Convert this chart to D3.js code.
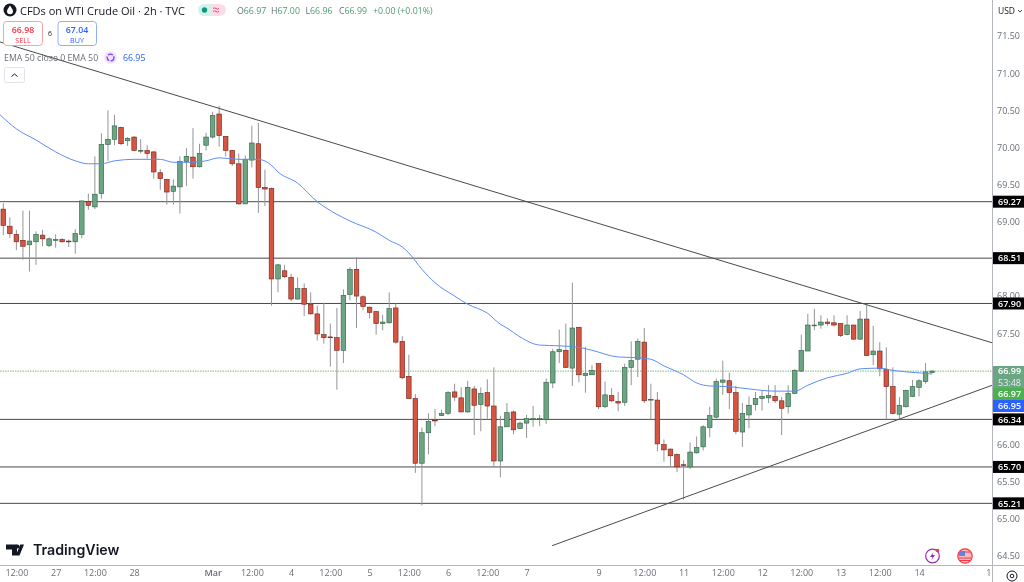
<!DOCTYPE html>
<html>
<head>
<meta charset="utf-8">
<script src="https://cdnjs.cloudflare.com/ajax/libs/d3/7.8.5/d3.min.js"></script>
<style>
html, body { margin: 0; padding: 0; background: #fff; overflow: hidden; }
text { font-family: "Open Sans", "Noto Sans", sans-serif; }
</style>
</head>
<body>
<script>
// 2h candles, one entry per bar
var opens = [69.17,68.94,68.83,68.75,68.69,68.73,68.82,68.68,68.76,68.76,68.74,68.73,68.83,69.27,69.20,69.38,70.04,70.11,70.27,70.09,70.14,69.96,69.96,69.94,69.66,69.57,69.41,69.47,69.81,69.87,69.74,70.03,70.14,70.45,70.15,69.96,69.78,69.24,69.83,70.05,69.46,
69.45,68.23,68.34,68.25,67.96,68.10,67.89,67.76,67.48,67.45,67.44,67.27,68.02,68.36,67.99,67.85,67.79,67.63,67.64,67.84,67.39,66.92,66.62,65.75,66.16,66.33,66.39,66.42,66.71,66.63,66.44,66.75,66.54,66.70,66.52,
65.78,66.24,66.44,66.22,66.29,66.34,66.34,66.34,66.83,67.25,67.27,67.03,67.58,66.93,66.94,67.09,66.51,66.66,66.58,66.57,67.04,67.15,67.38,66.60,66.60,66.00,65.94,65.87,65.73,65.70,65.89,65.97,66.23,66.37,66.84,66.86,66.70,66.17,66.40,
66.54,66.62,66.63,66.65,66.59,66.51,66.69,66.99,67.26,67.60,67.61,67.65,67.64,67.63,67.48,67.61,67.42,67.69,67.21,67.26,67.01,66.78,66.41,66.51,66.65,66.77,66.85,66.97];
var highs = [69.25,69.06,68.89,69.15,69.15,68.87,68.89,68.79,68.83,68.78,68.76,68.90,69.29,69.38,69.88,70.19,70.50,70.44,70.28,70.14,70.15,70.11,70.03,69.95,69.71,69.58,69.57,69.88,69.99,70.26,70.05,70.20,70.48,70.56,70.15,69.97,69.92,69.89,70.29,70.33,69.70,
69.46,68.43,68.42,68.30,68.25,68.17,68.05,67.87,67.91,67.63,67.84,68.09,68.39,68.52,68.01,67.86,67.80,67.75,68.05,67.90,67.46,67.21,66.68,66.23,66.42,66.48,66.47,66.72,66.82,66.77,66.86,66.79,66.77,66.88,67.04,
66.39,66.56,66.46,66.31,66.40,66.52,66.40,66.89,67.29,67.55,67.63,68.18,67.58,67.32,67.07,67.10,66.85,66.76,66.71,67.09,67.39,67.43,67.57,66.82,66.71,66.07,65.95,65.88,65.79,66.03,66.11,66.26,66.51,66.89,67.13,66.97,66.79,66.56,66.65,
66.71,66.73,66.80,66.80,66.64,66.80,67.02,67.48,67.76,67.83,67.74,67.70,67.74,67.63,67.74,67.61,67.80,67.89,67.60,67.38,67.31,67.04,66.64,66.74,66.87,66.88,67.10,67.00];
var lows = [68.82,68.78,68.62,68.49,68.33,68.42,68.67,68.66,68.65,68.72,68.66,68.57,68.78,69.16,69.17,69.31,69.82,70.03,70.03,70.02,69.95,69.92,69.85,69.58,69.43,69.23,69.23,69.11,69.48,69.58,69.73,69.96,70.12,70.01,69.88,69.75,69.23,69.24,69.73,69.12,69.21,
67.87,68.05,68.24,67.93,67.95,67.73,67.75,67.40,67.36,67.05,66.74,67.10,67.94,67.57,67.81,67.70,67.48,67.54,67.63,67.36,66.88,66.62,65.62,65.18,65.87,66.25,66.39,66.40,66.59,66.44,66.43,66.13,66.18,66.35,65.70,
65.56,66.24,66.14,66.21,66.09,66.24,66.25,66.28,66.76,67.10,67.03,66.79,66.84,66.70,66.94,66.48,66.49,66.57,66.45,66.52,66.80,66.91,66.56,66.34,65.91,65.77,65.70,65.63,65.26,65.67,65.88,65.92,66.10,66.35,66.67,66.48,66.14,65.97,66.22,
66.46,66.46,66.56,66.56,66.13,66.42,66.68,66.98,67.26,67.54,67.56,67.60,67.59,67.45,67.47,67.41,67.41,67.19,67.07,66.92,66.34,66.41,66.35,66.50,66.64,66.65,66.82,66.96];
var closes = [68.95,68.84,68.73,68.67,68.74,68.83,68.77,68.77,68.76,68.73,68.73,68.84,69.28,69.22,69.37,70.04,70.11,70.29,70.05,70.12,69.96,69.96,69.92,69.67,69.58,69.40,69.48,69.81,69.88,69.74,69.92,70.14,70.43,70.16,69.96,69.78,69.24,69.84,70.06,69.46,69.44,
68.23,68.42,68.26,67.96,68.10,67.89,67.76,67.49,67.44,67.44,67.27,68.01,68.36,68.00,67.86,67.78,67.63,67.65,67.83,67.38,66.90,66.62,65.75,66.16,66.31,66.32,66.42,66.70,66.64,66.44,66.77,66.53,66.69,66.52,65.78,
66.24,66.43,66.20,66.29,66.35,66.35,66.35,66.84,67.25,67.28,67.04,67.57,66.94,66.96,67.00,66.51,66.67,66.59,66.56,67.04,67.13,67.39,66.59,66.61,66.01,65.93,65.85,65.70,65.72,65.90,65.96,66.24,66.39,66.85,66.87,66.70,66.18,66.42,66.53,
66.62,66.65,66.66,66.59,66.49,66.69,67.00,67.27,67.61,67.61,67.65,67.63,67.61,67.47,67.61,67.42,67.69,67.20,67.26,67.02,66.78,66.42,66.53,66.73,66.78,66.86,66.98,66.99];

// EMA 50, read at these bars
var emaBars = [-0.5,2,5,8,11,13,15,17,20,24,26,29,31,33,36,39,41,42,45,48,51,53,57,59,61,62,64,66,69,71,74,76,77,79,82,85,88,90,94,97,99,101,104,106,108,111,114,118,121,123,126,129,131,134,136,138,141,142];
var emaValues = [70.44,70.25,70.10,69.94,69.82,69.78,69.78,69.82,69.84,69.84,69.80,69.80,69.82,69.86,69.84,69.84,69.76,69.67,69.52,69.27,69.10,69.01,68.86,68.75,68.66,68.58,68.36,68.18,68.00,67.89,67.77,67.62,67.57,67.45,67.34,67.33,67.31,67.27,67.18,67.17,67.15,67.06,66.94,66.83,66.79,66.78,66.75,66.72,66.72,66.80,66.90,66.96,67.02,67.03,67.00,66.98,66.96,66.95];

var levels = [69.27,68.51,67.90,66.34,65.70,65.21];
var upperTrend = [[-0.5,71.42],[151.2,67.37]];
var lowerTrend = [[83.9,64.64],[151.2,66.80]];

// 68.50, 67.00 and 66.50 sit behind the price tags in the picture
var priceTicks = [71.5,71,70.5,70,69.5,69,68,67.5,66,65.5,65,64.5];
var timeBars = [2,8,14,20,32,38,44,50,56,62,68,74,80,91,98,104,110,116,122,128,134,140,151];
var timeLabels = ['12:00','27','12:00','28','Mar','12:00','4','12:00','5','12:00','6','12:00','7','9','12:00','11','12:00','12','12:00','13','12:00','14','16'];

var lastPrice = 66.99, settlePrice = 66.97, emaLast = 66.95;
var ohlcLabels = ['O','H','L','C'];
var ohlcValues = ['66.97','67.00','66.96','66.99'];

var width = 1024, height = 582,
    paneRight = 992, paneBottom = 565;

var upColor = '#6ba583', upBorder = '#2f5f43',
    downColor = '#d75442', downBorder = '#6d2219',
    wickColor = '#959597', textColor = '#6a6d78';

var x = d3.scaleLinear().domain([0, 142]).range([3.3, 932.1]);
var y = d3.scaleLinear().domain([64.5, 71.5]).range([556.1, 36]);

var svg = d3.select('body').append('svg')
    .attr('width', width)
    .attr('height', height)
    .style('display', 'block')
    .style('filter', 'blur(0.3px)');

svg.append('defs').append('clipPath').attr('id', 'pane')
    .append('rect').attr('width', paneRight).attr('height', paneBottom);

var pane = svg.append('g').attr('clip-path', 'url(#pane)');

// horizontal levels sit under the candles
pane.selectAll('.level')
    .data(levels)
    .enter().append('line')
    .attr('class', 'level')
    .attr('x1', 0).attr('x2', paneRight)
    .attr('y1', function(d) { return y(d); })
    .attr('y2', function(d) { return y(d); })
    .attr('stroke', '#4a4a4a')
    .attr('stroke-width', 1);

pane.append('line')
    .attr('x1', 0).attr('x2', paneRight)
    .attr('y1', y(lastPrice)).attr('y2', y(lastPrice))
    .attr('stroke', '#8fce94')
    .attr('stroke-width', 1.4)
    .attr('stroke-dasharray', '1.5,1');

var candles = pane.selectAll('.candle')
    .data(opens)
    .enter().append('g')
    .attr('class', 'candle');

candles.append('line')
    .attr('x1', function(d, i) { return x(i); })
    .attr('x2', function(d, i) { return x(i); })
    .attr('y1', function(d, i) { return y(highs[i]); })
    .attr('y2', function(d, i) { return y(lows[i]); })
    .attr('stroke', wickColor)
    .attr('stroke-width', 1);

candles.append('rect')
    .attr('x', function(d, i) { return x(i) - 2.3; })
    .attr('width', 4.6)
    .attr('y', function(d, i) { return y(Math.max(opens[i], closes[i])); })
    .attr('height', function(d, i) { return Math.max(0.8, Math.abs(y(opens[i]) - y(closes[i]))); })
    .attr('fill', function(d, i) { return closes[i] >= opens[i] ? upColor : downColor; })
    .attr('stroke', function(d, i) { return closes[i] >= opens[i] ? upBorder : downBorder; })
    .attr('stroke-width', 0.6);

var emaLine = d3.line()
    .x(function(d, i) { return x(emaBars[i]); })
    .y(function(d) { return y(d); })
    .curve(d3.curveMonotoneX);

pane.append('path')
    .attr('d', emaLine(emaValues))
    .attr('fill', 'none')
    .attr('stroke', '#5b8df6')
    .attr('stroke-width', 1);

var trendLine = d3.line()
    .x(function(d) { return x(d[0]); })
    .y(function(d) { return y(d[1]); });

pane.selectAll('.trend')
    .data([upperTrend, lowerTrend])
    .enter().append('path')
    .attr('class', 'trend')
    .attr('d', trendLine)
    .attr('stroke', '#4a4a4a')
    .attr('fill', 'none')
    .attr('stroke-width', 1);

// axes
var yAxis = d3.axisRight(y)
    .tickValues(priceTicks)
    .tickFormat(d3.format('.2f'))
    .tickSize(0)
    .tickPadding(5);

var yG = svg.append('g')
    .attr('transform', 'translate(' + paneRight + ',0)')
    .call(yAxis);
yG.select('.domain').remove();
yG.selectAll('text').attr('font-size', 9).attr('fill', textColor);

var xAxis = d3.axisBottom(x)
    .tickValues(timeBars)
    .tickFormat(function(d, i) { return timeLabels[i]; })
    .tickSize(0)
    .tickPadding(5);

var xG = svg.append('g')
    .attr('transform', 'translate(0,' + paneBottom + ')')
    .call(xAxis);
xG.select('.domain').remove();
xG.selectAll('text')
    .attr('font-size', 9)
    .attr('fill', textColor)
    .attr('font-weight', function(d, i) { return timeLabels[i] === 'Mar' ? 600 : 400; });

// covers the clipped last time label, leaves the gear corner
svg.append('rect')
    .attr('x', paneRight).attr('y', paneBottom)
    .attr('width', width - paneRight).attr('height', height - paneBottom)
    .attr('fill', '#fff');

svg.append('line')
    .attr('x1', paneRight + 0.5).attr('x2', paneRight + 0.5)
    .attr('y1', 0).attr('y2', height)
    .attr('stroke', '#b4b6bd');
svg.append('line')
    .attr('x1', 0).attr('x2', width)
    .attr('y1', paneBottom + 0.5).attr('y2', paneBottom + 0.5)
    .attr('stroke', '#b4b6bd');

// price labels on the scale
function tagBox(yMid, h, fill) {
    svg.append('rect')
        .attr('x', paneRight + 1).attr('y', yMid - h / 2)
        .attr('width', width - paneRight - 1).attr('height', h)
        .attr('fill', fill);
}

function tagText(yText, label, weight, color) {
    svg.append('text')
        .attr('x', paneRight + 6).attr('y', yText)
        .attr('font-size', 9).attr('font-weight', weight)
        .attr('fill', color)
        .text(label);
}

levels.forEach(function(d) {
    tagBox(y(d), 12, '#000');
    tagText(y(d) + 3.2, d3.format('.2f')(d), 600, '#fff');
});

tagBox(377, 22, upColor);
tagText(y(lastPrice) + 2.6, d3.format('.2f')(lastPrice), 600, '#fff');
tagText(385.5, '53:48', 400, '#e6f0ea');
tagBox(394, 12, '#4caf50');
tagText(397.2, d3.format('.2f')(settlePrice), 600, '#fff');
tagBox(406, 12, '#2962ff');
tagText(409.2, d3.format('.2f')(emaLast), 600, '#fff');

// currency button
svg.append('text').attr('x', 998).attr('y', 14)
    .attr('font-size', 8.5).attr('fill', '#131722').text('USD');
svg.append('path').attr('d', 'M1018,10l2,2l2,-2')
    .attr('fill', 'none').attr('stroke', '#131722').attr('stroke-width', 0.8);

// header
svg.append('circle').attr('cx', 10).attr('cy', 10).attr('r', 6.5).attr('fill', '#131722');
svg.append('path').attr('d', 'M10,5.5C11.5,8 13,9.5 13,11.2A3,3 0 0 1 7,11.2C7,9.5 8.5,8 10,5.5Z').attr('fill', '#fff');
svg.append('text').attr('x', 20).attr('y', 14.5)
    .attr('font-size', 11).attr('fill', '#131722')
    .text('CFDs on WTI Crude Oil · 2h · TVC');

svg.append('path').attr('d', 'M204,4H211V16H204A6,6 0 0 1 204,4Z').attr('fill', '#d5f2ea');
svg.append('path').attr('d', 'M211,4H220A6,6 0 0 1 220,16H211Z').attr('fill', '#fcdde6');
svg.append('circle').attr('cx', 204.5).attr('cy', 10).attr('r', 2.7).attr('fill', '#089981');
svg.append('path').attr('d', 'M213,8.5q1.5,-1.2 3,0t3,0M213,11.5q1.5,-1.2 3,0t3,0')
    .attr('fill', 'none').attr('stroke', '#e91e63').attr('stroke-width', 0.8);

var ohlcX = [237, 271, 305.5, 339];
ohlcLabels.forEach(function(d, i) {
    var t = svg.append('text').attr('x', ohlcX[i]).attr('y', 14).attr('font-size', 8.8).attr('fill', textColor);
    t.append('tspan').text(d);
    t.append('tspan').attr('fill', '#4e9a73').text(ohlcValues[i]);
});
svg.append('text').attr('x', 373).attr('y', 14).attr('font-size', 8.8).attr('fill', '#4e9a73').text('+0.00 (+0.01%)');

// sell / buy
svg.append('rect').attr('x', 3.5).attr('y', 21.5).attr('width', 39).attr('height', 24).attr('rx', 3)
    .attr('fill', '#fff').attr('stroke', '#f7a0a5');
svg.append('text').attr('x', 23).attr('y', 33).attr('text-anchor', 'middle').attr('font-size', 8.8).attr('font-weight', 600).attr('fill', '#f23645').text('66.98');
svg.append('text').attr('x', 23).attr('y', 43).attr('text-anchor', 'middle').attr('font-size', 7.2).attr('fill', '#f23645').text('SELL');
svg.append('text').attr('x', 50).attr('y', 36).attr('text-anchor', 'middle').attr('font-size', 7).attr('fill', '#131722').text('6');
svg.append('rect').attr('x', 58).attr('y', 21.5).attr('width', 38.5).attr('height', 24).attr('rx', 3)
    .attr('fill', '#fff').attr('stroke', '#90aef8');
svg.append('text').attr('x', 77).attr('y', 33).attr('text-anchor', 'middle').attr('font-size', 8.8).attr('font-weight', 600).attr('fill', '#2962ff').text('67.04');
svg.append('text').attr('x', 77).attr('y', 43).attr('text-anchor', 'middle').attr('font-size', 7.2).attr('fill', '#2962ff').text('BUY');

// indicator legend
svg.append('text').attr('x', 4).attr('y', 61).attr('font-size', 8.8).attr('fill', textColor).text('EMA 50 close 0 EMA 50');
svg.append('circle').attr('cx', 110.5).attr('cy', 57.5).attr('r', 6.3).attr('fill', '#ede3fb');
svg.append('circle').attr('cx', 110.5).attr('cy', 57.5).attr('r', 3.4)
    .attr('fill', 'none').attr('stroke', '#7b3ff2').attr('stroke-width', 1.3).attr('stroke-dasharray', '5,1.5');
svg.append('text').attr('x', 123).attr('y', 61).attr('font-size', 8.8).attr('fill', '#2962ff').text('66.95');

svg.append('rect').attr('x', 4.5).attr('y', 67.5).attr('width', 20).attr('height', 15).attr('rx', 2)
    .attr('fill', '#fff').attr('stroke', '#e0e3eb');
svg.append('path').attr('d', 'M11.5,76.5l3,-2.5l3,2.5').attr('fill', 'none').attr('stroke', '#131722');

// logo
svg.append('path')
    .attr('d', 'M6,544.5H17V555.5H12V549.5H6ZM24,544.5L19.5,555.5H15.8L20.3,544.5Z')
    .attr('fill', '#131722');
svg.append('circle').attr('cx', 17.5).attr('cy', 546.5).attr('r', 2).attr('fill', '#131722');
svg.append('text').attr('x', 33).attr('y', 555)
    .attr('font-size', 14.2).attr('font-weight', 600).attr('fill', '#131722')
    .style('font-family', 'Inter, sans-serif')
    .text('TradingView');

// event markers at bottom right
svg.append('circle').attr('cx', 932.5).attr('cy', 556).attr('r', 6.8)
    .attr('fill', '#fff').attr('stroke', '#9c27b0').attr('stroke-width', 1.2);
svg.append('path').attr('d', 'M933.5,552L930,557H932.5L931.5,560L935,555H932.5Z').attr('fill', '#9c27b0');
svg.append('circle').attr('cx', 937.5).attr('cy', 550.5).attr('r', 1.8).attr('fill', '#f23645');

svg.append('circle').attr('cx', 965).attr('cy', 556).attr('r', 7.2)
    .attr('fill', '#fbb').attr('stroke', '#f23645').attr('stroke-width', 1.2);
svg.append('rect').attr('x', 959).attr('y', 551).attr('width', 6).attr('height', 5).attr('fill', '#5b84e8');
svg.append('path').attr('d', 'M965,552H971M959,558H971M960,560.5H970').attr('stroke', '#f23645').attr('stroke-width', 1);

// settings gear
svg.append('circle').attr('cx', 1012).attr('cy', 576).attr('r', 5).attr('fill', 'none').attr('stroke', '#131722');
svg.append('circle').attr('cx', 1012).attr('cy', 576).attr('r', 1.8).attr('fill', 'none').attr('stroke', '#131722');
</script>
</body>
</html>
